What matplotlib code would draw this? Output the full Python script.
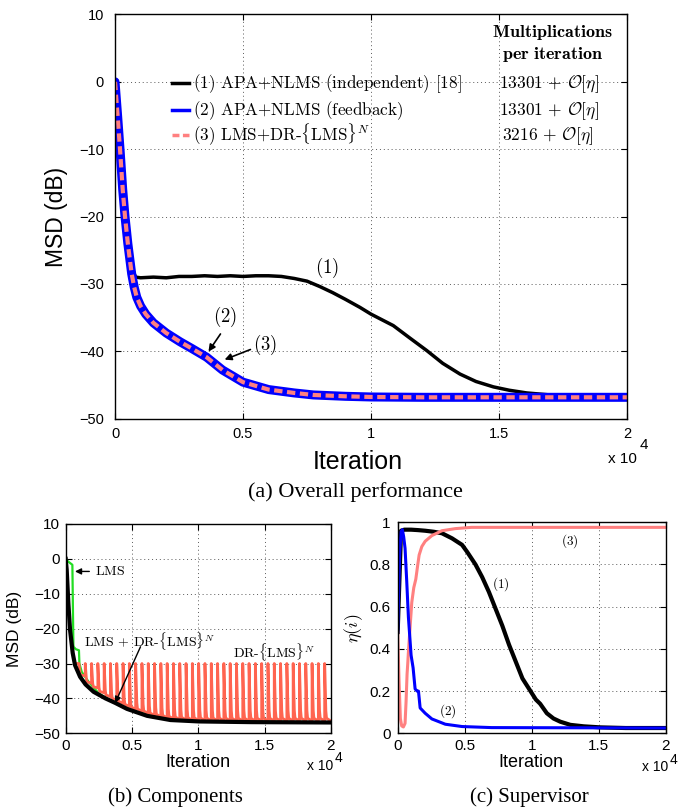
import numpy as np
import matplotlib
matplotlib.use('Agg')
import matplotlib.pyplot as plt
from matplotlib.lines import Line2D

plt.rcParams['font.family'] = ['Liberation Sans', 'DejaVu Sans']
plt.rcParams['mathtext.fontset'] = 'cm'

# ---------------- data (a) overall performance ----------------
a_it_1 = [0, 100, 200, 300, 400, 500, 650, 800, 1000, 1500, 2000, 2500, 3000, 3500, 4000, 4500,
          5000, 5500, 6000, 6500, 7000, 7500, 8000, 8500, 9000, 9570, 10000, 10870, 11500,
          12175, 12800, 13477, 14100, 14780, 15400, 16080, 17000, 18000, 20000]
a_msd_1 = [0, -5, -10, -15.5, -19.5, -23, -27.5, -29.0, -29.1, -29.0, -29.1, -28.9, -28.9, -28.8,
           -28.9, -28.8, -28.9, -28.8, -28.8, -28.9, -29.2, -29.6, -30.4, -31.3, -32.3, -33.5,
           -34.5, -36.2, -38.0, -39.9, -41.8, -43.4, -44.5, -45.3, -45.8, -46.2, -46.5, -46.7,
           -46.8]
a_it_2 = [0, 100, 195, 300, 390, 500, 650, 750, 850, 1000, 1200, 1500, 2000, 2540, 3000, 3580,
          4200, 5000, 6000, 7000, 7750, 9000, 10000, 12000, 15000, 20000]
a_msd_2 = [0, -5, -10, -16, -20, -24, -28.5, -30.5, -32, -33.3, -34.5, -35.8, -37.3, -38.6,
           -39.6, -40.9, -42.8, -44.6, -45.7, -46.2, -46.5, -46.7, -46.8, -46.85, -46.85, -46.85]
a_it_3 = a_it_2
a_msd_3 = [0, -5, -10, -16, -20, -24, -28.5, -30.5, -32, -33.3, -34.5, -35.8, -37.3, -38.6,
           -39.6, -40.9, -42.8, -44.6, -45.7, -46.2, -46.5, -46.7, -46.8, -46.85, -46.85, -46.85]

a_labels = [r'$\text{(1) APA+NLMS (independent) [18]}$',
            r'$\text{(2) APA+NLMS (feedback)}$',
            r'$\text{(3) LMS+DR-}\{\text{LMS}\}^{N}$']
a_mults = [r'$13301\,+\,\mathcal{O}[\eta]$', r'$13301\,+\,\mathcal{O}[\eta]$',
           r'$3216\,+\,\mathcal{O}[\eta]$']

# ---------------- data (b) components ----------------
b_it_lms = [0, 200, 505, 580, 600, 765, 1000, 1035, 1210, 1720, 2500, 3500, 5000, 7000, 10000, 20000]
b_msd_lms = [0, -0.8, -1.7, -24.6, -25.2, -25.9, -26.2, -30.0, -32.4, -35.2, -38.6, -40.9,
             -43.4, -45.6, -46.5, -46.8]
b_it_comb = [0, 76, 202, 328, 530, 707, 1086, 1500, 2100, 3000, 3740, 4620, 6140, 7900,
             10050, 14000, 20000]
b_msd_comb = [0, -3.1, -12.7, -20.3, -27.0, -30.5, -33.8, -36.0, -38.1, -40.0, -41.3, -43.0,
              -45.0, -46.2, -46.6, -46.8, -46.9]
dr_start = 1000
dr_period = 475
dr_top = -30.0
dr_lows = [-33.5, -35.6, -37.0, -38.4, -39.5, -40.5, -41.4, -42.3, -43.1, -43.7,
           -44.3, -44.9, -45.3, -45.6, -45.9, -46.1, -46.2, -46.3, -46.35, -46.4,
           -46.45, -46.45, -46.45, -46.45, -46.5, -46.5, -46.5, -46.5, -46.5, -46.5,
           -46.5, -46.5, -46.5, -46.5, -46.5, -46.5, -46.5, -46.5, -46.5, -46.5]
# shape of one restart: iterations after restart and fraction of the way from floor to top
tooth_off = [0, 20, 50, 90, 140, 475]
tooth_frac = [1.0, 0.8, 0.45, 0.18, 0.05, 0.0]

# ---------------- data (c) supervisor ----------------
c_it_1 = [0, 250, 500, 1000, 1500, 2050, 2700, 3300, 4050, 4800, 5175, 5800, 6300, 6800, 7300,
          7800, 8300, 8800, 9300, 9800, 10300, 10620, 11120, 11620, 12120, 12870, 13870,
          15120, 17000, 20000]
c_eta_1 = [0.48, 0.96, 0.965, 0.965, 0.963, 0.96, 0.955, 0.948, 0.924, 0.893, 0.86, 0.80,
           0.74, 0.67, 0.59, 0.51, 0.42, 0.34, 0.26, 0.21, 0.16, 0.14, 0.095, 0.07, 0.055,
           0.04, 0.033, 0.028, 0.025, 0.025]
c_it_2 = [0, 150, 250, 350, 450, 550, 675, 800, 1000, 1150, 1300, 1450, 1550, 1675, 2050,
          2550, 3550, 4800, 7000, 20000]
c_eta_2 = [0.48, 0.85, 0.955, 0.965, 0.93, 0.877, 0.72, 0.55, 0.37, 0.31, 0.21, 0.20, 0.2,
           0.12, 0.095, 0.068, 0.043, 0.032, 0.027, 0.025]
c_it_3 = [0, 100, 200, 300, 425, 550, 625, 700, 750, 800, 900, 1050, 1200, 1350, 1500, 1600,
          1800, 2050, 2550, 3300, 4300, 5500, 20000]
c_eta_3 = [0.48, 0.25, 0.07, 0.035, 0.03, 0.047, 0.15, 0.28, 0.33, 0.385, 0.48, 0.62, 0.69,
           0.73, 0.8, 0.845, 0.885, 0.91, 0.937, 0.96, 0.97, 0.976, 0.976]

BLUE = '#0000ff'
PINK = '#ff8080'
RED = '#ff6450'
GREEN = '#22dd22'


def style_axes(ax, tick_size, pad_y, pad_x):
    ax.tick_params(direction='in', top=True, right=True, length=4, width=0.8,
                   labelsize=tick_size)
    ax.tick_params(axis='y', pad=pad_y)
    ax.tick_params(axis='x', pad=pad_x)
    ax.grid(True, linestyle=(0, (1, 3)), color='0.35', linewidth=0.7)
    for s in ax.spines.values():
        s.set_linewidth(1.0)


def x_scale_note(ax, fx, fy, size):
    ax.text(fx, fy, 'x 10', transform=ax.transAxes, fontsize=size, ha='right', va='center')
    ax.text(fx + 0.005, fy + 0.035, '4', transform=ax.transAxes, fontsize=size, ha='left',
            va='center')


fig = plt.figure(figsize=(6.95, 8.10), dpi=100)

# ================= (a) =================
ax = fig.add_axes([0.1655, 0.4833, 0.7367, 0.4988])
ax.plot(np.array(a_it_1) / 1e4, a_msd_1, color='black', lw=2.5)
ax.plot(np.array(a_it_2) / 1e4, a_msd_2, color=BLUE, lw=6.5, solid_capstyle='round')
ax.plot(np.array(a_it_3) / 1e4, a_msd_3, color=PINK, lw=3, dashes=(2, 1.1))
ax.set_xlim(0, 2)
ax.set_ylim(-50, 10)
ax.set_xticks([0, 0.5, 1, 1.5, 2])
ax.set_xticklabels(['0', '0.5', '1', '1.5', '2'])
ax.set_yticks([-50, -40, -30, -20, -10, 0, 10])
style_axes(ax, 10.5, 8, 6)
ax.set_xlabel('Iteration', fontsize=18)
ax.set_ylabel('MSD (dB)', fontsize=16.5)
ax.xaxis.set_label_coords(0.475, -0.078)
ax.yaxis.set_label_coords(-0.092, 0.5)
x_scale_note(ax, 1.02, -0.1, 11)

# legend rows drawn by hand (handle, label, multiplications)
handle_y = [0.8297, 0.764, 0.702]
base_y = [0.818, 0.752, 0.689]
handle_styles = [dict(color='black', lw=2.5),
                 dict(color=BLUE, lw=2.5),
                 dict(color=PINK, lw=2.5, dashes=(2, 1))]
for hy, by, st, lab, m in zip(handle_y, base_y, handle_styles, a_labels, a_mults):
    ax.add_line(Line2D([0.111, 0.1445], [hy, hy], transform=ax.transAxes, **st))
    ax.text(0.152, by, lab, transform=ax.transAxes, fontsize=12.3, ha='left', va='baseline')
    ax.text(0.75 if m.startswith('$1') else 0.756, by, m, transform=ax.transAxes,
            fontsize=12.5, ha='left', va='baseline')
ax.text(0.854, 0.944, r'$\mathbf{Multiplications}$', transform=ax.transAxes,
        fontsize=13, ha='center', va='baseline')
ax.text(0.854, 0.891, r'$\mathbf{per\ iteration}$', transform=ax.transAxes,
        fontsize=13, ha='center', va='baseline')

ax.text(0.827, -27.6, r'$(1)$', fontsize=13.5, ha='center', va='center')
ax.text(0.43, -34.9, r'$(2)$', fontsize=13.5, ha='center', va='center')
ax.text(0.586, -39.0, r'$(3)$', fontsize=13.5, ha='center', va='center')
ax.annotate('', xy=(0.359, -40.4), xytext=(0.418, -37.1),
            arrowprops=dict(arrowstyle='-|>', color='black', lw=1.2, mutation_scale=10))
ax.annotate('', xy=(0.418, -41.4), xytext=(0.539, -39.6),
            arrowprops=dict(arrowstyle='-|>', color='black', lw=1.2, mutation_scale=10))

fig.text(355 / 695, 1 - 492 / 810, '(a) Overall performance', fontsize=16,
         family='Liberation Serif', ha='center', va='center')

# ================= (b) =================
bx = fig.add_axes([0.0945, 0.0947, 0.3817, 0.2584])
red_x, red_y = [800], [dr_top]
prev = dr_top
for k, low in enumerate(dr_lows):
    t0 = dr_start + k * dr_period
    red_x += [t0, t0]
    red_y += [prev, dr_top]
    for o, f in zip(tooth_off[1:-1], tooth_frac[1:-1]):
        red_x.append(t0 + o)
        red_y.append(low + f * (dr_top - low))
    prev = low
red_x.append(20000)
red_y.append(prev)
bx.plot(np.array(b_it_lms) / 1e4, b_msd_lms, color=GREEN, lw=1.6)
bx.plot(np.array(red_x) / 1e4, red_y, color=RED, lw=2.0)
bx.plot(np.array(b_it_comb) / 1e4, b_msd_comb, color='black', lw=3.0)
bx.set_xlim(0, 2)
bx.set_ylim(-50, 10)
bx.set_xticks([0, 0.5, 1, 1.5, 2])
bx.set_xticklabels(['0', '0.5', '1', '1.5', '2'])
bx.set_yticks([-50, -40, -30, -20, -10, 0, 10])
style_axes(bx, 11, 4, 4)
bx.set_xlabel('Iteration', fontsize=13)
bx.set_ylabel('MSD (dB)', fontsize=12.5)
bx.xaxis.set_label_coords(0.497, -0.1)
bx.yaxis.set_label_coords(-0.165, 0.5)
x_scale_note(bx, 1.01, -0.155, 10)
bx.annotate(r'$\text{LMS}$', xy=(0.07, -3.6), xytext=(0.22, -3.6), fontsize=10,
            va='center', ha='left',
            arrowprops=dict(arrowstyle='-|>', color='black', lw=1.0, mutation_scale=9,
                            shrinkB=0, shrinkA=2))
bx.text(0.63, -23.5, r'$\text{LMS + DR-}\{\text{LMS}\}^{N}$', fontsize=10, ha='center',
        va='center')
bx.annotate('', xy=(0.373, -41.3), xytext=(0.564, -25.2),
            arrowprops=dict(arrowstyle='-|>', color='black', lw=1.0, mutation_scale=9,
                            shrinkA=0, shrinkB=0))
bx.text(1.574, -26.6, r'$\text{DR-}\{\text{LMS}\}^{N}$', fontsize=10, ha='center',
        va='center')
fig.text(175 / 695, 1 - 797 / 810, '(b) Components', fontsize=15,
         family='Liberation Serif', ha='center', va='center')

# ================= (c) =================
cx = fig.add_axes([0.5722, 0.0947, 0.386, 0.2605])
cx.plot(np.array(c_it_1) / 1e4, c_eta_1, color='black', lw=3.0)
cx.plot(np.array(c_it_3) / 1e4, c_eta_3, color=PINK, lw=2.2)
cx.plot(np.array(c_it_2) / 1e4, c_eta_2, color=BLUE, lw=2.2)
cx.set_xlim(0, 2)
cx.set_ylim(0, 1)
cx.set_xticks([0, 0.5, 1, 1.5, 2])
cx.set_xticklabels(['0', '0.5', '1', '1.5', '2'])
cx.set_yticks([0, 0.2, 0.4, 0.6, 0.8, 1])
cx.set_yticklabels(['0', '0.2', '0.4', '0.6', '0.8', '1'])
style_axes(cx, 11, 5, 4)
cx.set_xlabel('Iteration', fontsize=13)
cx.set_ylabel(r'$\eta(i)$', fontsize=13)
cx.xaxis.set_label_coords(0.497, -0.1)
cx.yaxis.set_label_coords(-0.122, 0.5)
x_scale_note(cx, 1.01, -0.16, 10)
cx.text(0.771, 0.708, r'$(1)$', fontsize=9.5, ha='center', va='center')
cx.text(0.37, 0.106, r'$(2)$', fontsize=9.5, ha='center', va='center')
cx.text(1.281, 0.911, r'$(3)$', fontsize=9.5, ha='center', va='center')
fig.text(529 / 695, 1 - 797 / 810, '(c) Supervisor', fontsize=15,
         family='Liberation Serif', ha='center', va='center')

fig.savefig('out.png', dpi=100)
